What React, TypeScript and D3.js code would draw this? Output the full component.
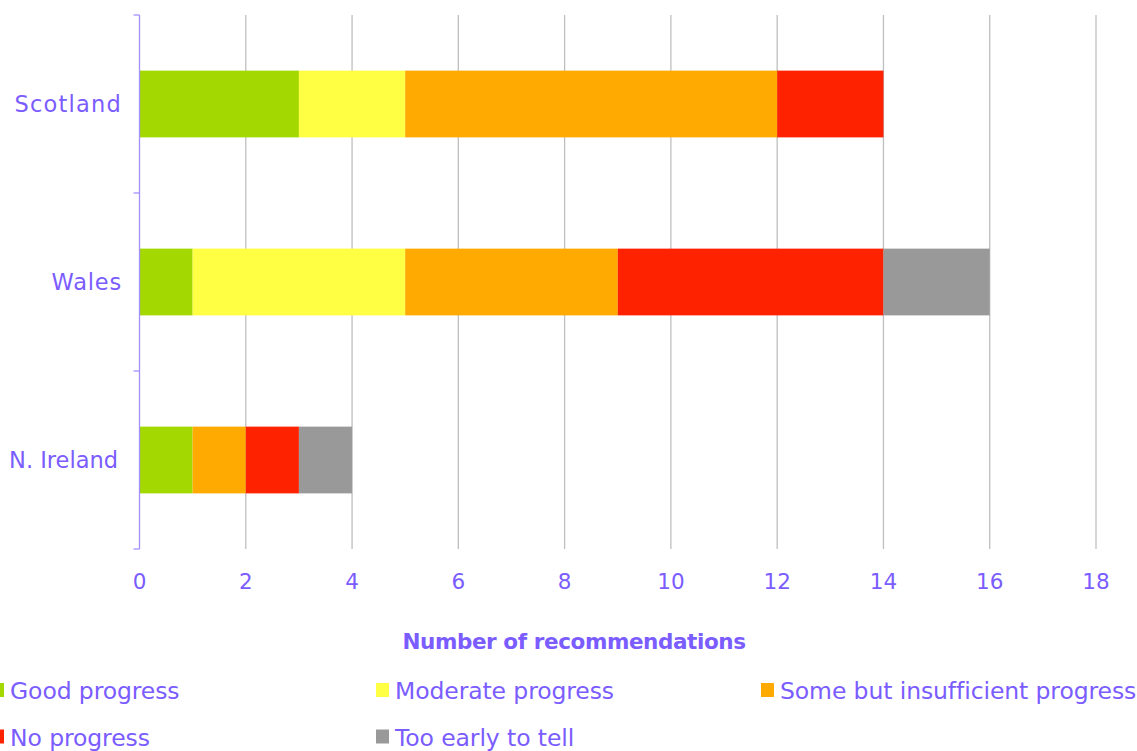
import React from "react";
import * as d3 from "d3";

const categories = ["Scotland", "Wales", "N. Ireland"];
const seriesNames = [
  "Good progress",
  "Moderate progress",
  "Some but insufficient progress",
  "No progress",
  "Too early to tell",
];
const goodProgress = [3, 1, 1];
const moderateProgress = [2, 4, 0];
const someProgress = [7, 4, 1];
const noProgress = [2, 5, 1];
const tooEarly = [0, 2, 1];
const xTicks = [0, 2, 4, 6, 8, 10, 12, 14, 16, 18];
const seriesColors = ["#a3d900", "#ffff44", "#ffaa00", "#ff2200", "#999999"];

const W = 1137;
const H = 751;
const margin = { left: 139.5, right: 1096, top: 15, bottom: 549 };
const TEXT = "#7a5cff";
const AXIS = "#a48fff";
const GRID = "#bfbfbf";
const FONT = "'DejaVu Sans', sans-serif";

export default function App() {
  const seriesValues = [goodProgress, moderateProgress, someProgress, noProgress, tooEarly];
  const rows = categories.map((c, i) => {
    const r: Record<string, any> = { category: c };
    seriesNames.forEach((s, k) => (r[s] = seriesValues[k][i]));
    return r;
  });
  const stacked = d3.stack<any>().keys(seriesNames)(rows);

  const x = d3.scaleLinear().domain([0, 18]).range([margin.left, margin.right]);
  const y = d3
    .scaleBand()
    .domain(categories)
    .range([margin.top, margin.bottom])
    .paddingInner(0.625)
    .paddingOuter(0.3125);
  const bandStep = (margin.bottom - margin.top) / categories.length;
  const boundaries = d3.range(categories.length + 1).map((i) => margin.top + i * bandStep);

  // legend layout: two rows, three columns
  const legendCols = [10, 395, 780];
  const legendRows = [699, 745.5];

  return (
    <svg
      width={W}
      height={H}
      style={{ position: "absolute", left: 0, top: 0, background: "#fff" }}
      fontFamily={FONT}
    >
      {/* vertical gridlines */}
      {xTicks
        .filter((t) => t > 0)
        .map((t) => (
          <line
            key={"g" + t}
            x1={x(t)}
            x2={x(t)}
            y1={margin.top}
            y2={margin.bottom}
            stroke={GRID}
            strokeWidth={1.3}
          />
        ))}

      {/* stacked bars */}
      {stacked.map((layer, k) => (
        <g key={layer.key} fill={seriesColors[k]}>
          {layer.map((d, i) =>
            d[1] - d[0] > 0 ? (
              <rect
                key={i}
                x={x(d[0])}
                y={y(categories[i])!}
                width={x(d[1]) - x(d[0])}
                height={y.bandwidth()}
              />
            ) : null
          )}
        </g>
      ))}

      {/* category axis */}
      <line x1={margin.left} x2={margin.left} y1={margin.top} y2={margin.bottom} stroke={AXIS} strokeWidth={1.3} />
      {boundaries.map((b, i) => (
        <line key={"t" + i} x1={margin.left - 6} x2={margin.left} y1={b} y2={b} stroke={AXIS} strokeWidth={1.3} />
      ))}
      {categories.map((c) => (
        <text
          key={c}
          x={c === "N. Ireland" ? 118 : 122}
          y={y(c)! + y.bandwidth() / 2}
          dy="0.35em"
          textAnchor="end"
          fontSize={22.5}
          fill={TEXT}
          letterSpacing={c === "Scotland" ? 1.2 : c === "Wales" ? 0.8 : 0}
        >
          {c}
        </text>
      ))}

      {/* value axis labels */}
      {xTicks.map((t) => (
        <text key={"l" + t} x={x(t)} y={589} textAnchor="middle" fontSize={21.5} fill={TEXT}>
          {t}
        </text>
      ))}
      <text x={574} y={649} textAnchor="middle" fontSize={21.5} fontWeight="bold" fill={TEXT} letterSpacing={-0.4}>
        Number of recommendations
      </text>

      {/* legend */}
      {seriesNames.map((s, k) => {
        const col = k % 3;
        const row = Math.floor(k / 3);
        const tx = legendCols[col];
        const ty = legendRows[row];
        return (
          <g key={s}>
            <rect x={tx - 19} y={ty - 16} width={13} height={14} fill={seriesColors[k]} />
            <text x={tx} y={ty} fontSize={23.5} fill={TEXT} letterSpacing={-0.1}>
              {s}
            </text>
          </g>
        );
      })}
    </svg>
  );
}
